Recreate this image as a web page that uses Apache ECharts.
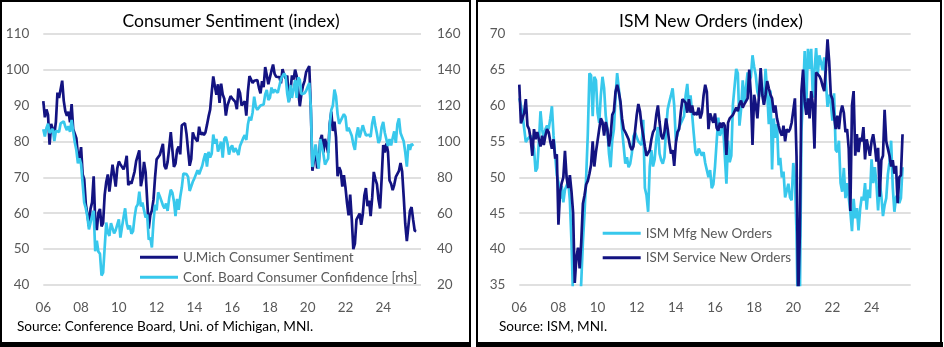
<!DOCTYPE html>
<html><head><meta charset="utf-8">
<script src="https://cdn.jsdelivr.net/npm/echarts@6/dist/echarts.min.js"></script>
<style>html,body{margin:0;padding:0;background:#fff}#c{width:944px;height:347px}</style>
</head><body><div id="c"></div>
<script>
const startYear = 2006;
const xTickLabels = ['06','08','10','12','14','16','18','20','22','24'];

const umich = [
91.2,86.7,88.9,87.4,79.1,84.9,84.7,82.0,85.4,93.6,92.1,91.7,
96.9,91.3,88.4,87.1,88.3,85.3,90.4,83.4,83.4,80.9,76.1,75.5,
78.4,70.8,69.5,62.6,59.8,56.4,61.2,63.0,70.3,57.6,55.3,60.1,
61.2,56.3,57.3,65.1,68.7,70.8,66.0,65.7,73.5,70.6,67.4,72.5,
74.4,73.6,73.6,72.2,73.6,76.0,67.8,68.9,68.2,67.7,71.6,74.5,
74.2,77.5,67.5,69.8,74.3,71.5,63.7,55.7,59.5,60.8,63.7,69.9,
75.0,75.3,76.2,76.4,79.3,73.2,72.3,74.3,78.3,82.6,82.7,72.9,
73.8,77.6,78.6,76.4,84.5,84.1,85.1,82.1,77.5,73.2,75.1,82.5,
81.2,81.6,80.0,84.1,81.9,82.5,81.8,82.5,84.6,86.9,88.8,93.6,
98.1,95.4,93.0,95.9,90.7,96.1,93.1,91.9,87.2,90.0,91.3,92.6,
92.0,91.7,91.0,89.0,94.7,93.5,90.0,89.8,91.2,87.2,93.8,98.2,
98.5,96.3,96.9,97.0,97.1,95.0,93.4,96.8,95.1,100.7,98.5,95.9,
95.7,99.7,101.4,98.8,98.0,98.2,97.9,96.2,100.1,98.6,97.5,98.3,
91.2,93.8,98.4,97.2,100.0,98.2,98.4,89.8,93.2,95.5,96.8,99.3,
99.8,101.0,89.1,71.8,72.3,78.1,72.5,74.1,80.4,81.8,76.9,80.7,
79.0,76.8,84.9,88.3,82.9,85.5,81.2,70.3,72.8,71.7,67.4,70.6,
67.2,62.8,59.4,65.2,58.4,50.0,51.5,58.2,58.6,59.9,56.8,59.7,
64.9,67.0,62.0,63.5,59.2,64.4,71.5,69.5,68.1,63.8,61.3,69.7,
79.0,76.9,79.4,77.2,69.1,68.2,66.4,67.9,70.1,70.5,71.8,74.0,
71.7,64.7,57.0,52.2,52.2,60.7,61.7,58.2,55.1,55.0
];

const confBoard = [
106.8,102.7,107.5,109.8,104.7,105.4,107.0,100.2,105.9,105.1,105.3,110.0,
110.2,111.2,108.2,106.3,108.5,105.3,111.9,105.6,99.5,95.2,87.8,90.6,
87.3,76.4,65.9,62.8,58.1,51.0,51.9,58.5,61.4,38.8,44.7,38.6,
37.4,25.3,26.9,40.8,54.8,49.3,47.4,54.5,53.4,48.7,50.6,53.6,
56.5,46.4,52.3,57.7,62.7,54.3,51.0,53.2,48.6,49.9,57.8,63.4,
64.8,72.0,63.8,66.0,61.7,57.6,59.2,45.2,46.4,40.9,55.2,64.8,
61.5,71.6,69.5,68.7,64.4,62.7,65.4,61.3,68.4,73.1,71.5,66.7,
58.4,68.0,61.9,69.0,74.3,82.1,81.0,81.8,80.2,72.4,72.0,77.5,
79.4,78.3,83.9,81.7,82.2,86.4,90.3,93.4,86.0,94.1,91.0,93.1,
103.8,98.8,101.4,94.3,94.6,99.8,91.0,101.3,102.6,99.1,92.6,96.3,
97.8,94.0,96.2,94.7,92.4,97.4,96.7,101.8,103.5,100.8,109.4,113.7,
111.6,116.1,124.9,119.4,117.6,117.3,120.0,120.4,120.6,126.2,128.6,123.1,
124.3,130.0,127.0,128.8,128.8,127.1,127.9,134.7,135.3,137.9,136.4,126.6,
121.7,131.4,124.2,129.2,134.1,124.3,135.7,134.2,126.3,126.1,126.8,128.2,
130.4,132.6,118.8,85.7,85.9,98.3,91.7,84.8,101.3,101.4,92.9,87.1,
88.9,90.4,109.0,117.5,120.0,128.9,125.1,115.2,109.8,111.6,111.9,115.2,
113.8,105.7,107.6,108.6,103.2,98.4,95.3,103.6,107.8,102.2,101.4,109.0,
106.0,103.4,104.0,103.7,102.5,110.1,114.0,108.7,104.3,99.1,101.0,108.0,
110.9,104.8,104.7,97.5,101.3,97.8,101.9,105.6,99.2,109.6,112.8,104.7,
105.3,100.1,93.9,86.0,98.4,95.2,98.7,97.4
];

const ismMfg = [
61.0,60.0,58.7,56.8,54.9,55.3,55.3,55.8,54.9,54.0,50.8,51.3,
54.9,59.2,56.7,55.3,56.7,57.2,56.7,58.2,59.9,55.8,53.0,50.3,
49.3,47.0,48.8,46.5,48.3,48.8,49.5,46.8,41.0,33.0,28.0,23.0,
30.0,31.0,35.5,41.0,45.0,50.0,56.0,64.5,64.2,58.5,64.0,63.5,
59.0,57.6,61.4,64.0,62.4,58.6,56.7,53.3,51.4,55.2,56.7,61.2,
64.5,62.4,60.0,56.7,54.3,51.9,52.8,51.4,51.9,53.3,55.7,56.2,
56.0,55.0,55.0,54.5,58.0,48.5,47.5,45.2,51.5,53.8,51.5,52.5,
55.2,57.0,53.3,52.4,51.9,52.8,56.7,59.5,60.5,61.4,62.4,60.0,
55.0,56.0,57.0,57.5,58.0,58.5,61.4,63.0,60.0,61.4,61.4,56.0,
53.5,53.0,54.0,53.5,53.0,53.5,52.0,51.0,50.0,51.0,48.5,49.0,
51.5,51.5,58.3,55.8,55.7,57.0,56.9,49.1,55.1,52.1,53.0,60.2,
60.4,65.1,64.5,57.2,59.5,63.5,60.4,60.3,64.6,63.4,64.0,67.0,
65.4,64.2,61.9,61.2,63.7,63.5,60.2,65.1,61.8,57.4,62.1,51.1,
58.2,55.5,57.4,51.7,52.7,50.0,50.8,47.2,47.3,49.1,47.2,46.8,
52.0,49.8,42.2,27.1,31.8,56.4,61.5,67.6,60.2,67.9,65.1,67.9,
61.1,64.8,68.0,64.3,67.0,66.0,64.9,66.7,66.7,59.8,61.5,60.4,
57.9,61.7,53.8,53.5,55.1,49.2,48.0,51.3,47.1,49.2,47.2,45.2,
42.5,47.0,44.3,45.7,42.6,45.6,47.3,46.8,49.2,45.5,48.3,47.1,
52.5,49.2,51.4,49.1,45.4,49.3,47.4,44.6,46.1,47.1,50.4,52.1,
55.1,48.6,45.2,47.2,47.6,46.4,47.1,51.4
];

const ismServices = [
62.9,57.5,58.2,59.0,60.9,57.2,56.7,55.3,53.0,56.7,55.3,56.3,
55.3,54.3,55.8,54.5,55.8,56.7,56.3,55.0,54.0,55.3,52.6,53.2,
43.4,48.0,49.2,50.0,53.7,50.0,48.5,50.3,48.0,45.0,35.3,38.8,
40.2,37.3,41.0,46.3,47.5,49.0,49.5,50.5,51.7,55.0,51.5,53.5,
53.3,56.7,58.2,57.7,55.8,57.7,56.7,54.3,55.8,58.7,59.2,61.9,
62.9,61.9,60.6,58.2,56.7,56.3,55.8,55.3,54.3,53.8,54.3,56.5,
58.7,60.2,59.2,57.2,55.8,54.3,53.0,52.8,53.8,55.3,56.3,56.7,
58.7,60.0,57.7,55.8,55.3,56.3,58.2,56.7,54.8,53.3,53.8,51.6,
54.8,56.3,56.7,59.0,60.9,60.9,60.4,59.0,60.9,59.0,60.0,58.7,
59.0,58.7,59.7,58.2,59.0,61.4,62.9,61.9,56.7,58.9,58.2,57.6,
58.9,56.9,56.5,57.6,56.9,57.6,57.2,53.1,57.6,58.2,58.2,58.7,
59.2,59.7,59.2,60.2,60.7,59.7,60.2,60.2,61.0,65.0,61.5,54.5,
61.5,60.1,58.2,61.5,65.2,61.5,60.1,61.5,63.4,62.4,61.5,61.0,
59.0,60.0,58.2,57.2,56.3,55.8,57.2,55.0,56.7,56.3,56.7,57.6,
57.6,61.0,52.9,32.9,41.9,62.0,65.0,60.5,58.7,61.0,58.2,62.0,
60.1,54.0,64.6,64.6,64.1,63.6,62.7,62.0,65.2,69.2,66.2,61.5,
60.9,58.6,56.7,58.6,56.7,59.0,60.0,59.0,56.3,56.7,54.0,45.3,
60.0,62.0,53.0,56.0,53.5,55.5,55.0,57.0,52.5,55.3,55.3,53.0,
55.0,56.0,54.4,52.2,54.1,47.3,52.4,53.0,59.4,55.0,54.0,53.0,
51.5,52.4,50.5,51.6,46.4,50.0,50.3,56.0
];

const DARK = '#131381';
const CYAN = '#38c8ec';
const FONT = 'Lato';
const GREY = '#595959';

function toPairs(arr) { return arr.map((v, i) => [startYear + i / 12, v]); }
function xFmt(v) {
  const k = (v - startYear) / 2;
  return (k >= 0 && k < xTickLabels.length && Number.isInteger(k)) ? xTickLabels[k] : '';
}

const chart = echarts.init(document.getElementById('c'), null, {renderer: 'canvas'});
const xCommon = {
  type: 'value', min: 2006, max: 2026, interval: 2,
  axisLine: {show: false}, axisTick: {show: false}, splitLine: {show: false},
  axisLabel: {formatter: xFmt, color: GREY, fontSize: 13.5, fontFamily: FONT, margin: 16}
};
const split = {show: true, lineStyle: {color: '#d6d6d6', width: 1.5}};
const yLabel = {color: GREY, fontSize: 13.5, fontFamily: FONT};

function line(name, data, xi, yi, color, z) {
  return {
    name, type: 'line', xAxisIndex: xi, yAxisIndex: yi, data: toPairs(data),
    symbol: 'none', showSymbol: false, clip: true, z: z,
    lineStyle: {width: 2.7, color: color}, itemStyle: {color: color}
  };
}

chart.setOption({
  animation: false,
  grid: [
    {left: 43.3, top: 33.7, width: 377.7, height: 251.3},
    {left: 519.3, top: 33.7, width: 391.4, height: 251.3}
  ],
  xAxis: [Object.assign({gridIndex: 0}, xCommon), Object.assign({gridIndex: 1}, xCommon)],
  yAxis: [
    {gridIndex: 0, type: 'value', min: 40, max: 110, interval: 10, position: 'left',
     axisLine: {show: false}, axisTick: {show: false}, splitLine: split,
     axisLabel: Object.assign({margin: 14}, yLabel)},
    {gridIndex: 0, type: 'value', min: 20, max: 160, interval: 20, position: 'right',
     axisLine: {show: false}, axisTick: {show: false}, splitLine: {show: false},
     axisLabel: Object.assign({margin: 16}, yLabel)},
    {gridIndex: 1, type: 'value', min: 35, max: 70, interval: 5, position: 'left',
     axisLine: {show: false}, axisTick: {show: false}, splitLine: split,
     axisLabel: Object.assign({margin: 14}, yLabel)}
  ],
  legend: [
    {data: ['U.Mich Consumer Sentiment', 'Conf. Board Consumer Confidence [rhs]'],
     orient: 'vertical', left: 140, top: 249.3, padding: 0, itemGap: 4,
     itemWidth: 38, itemHeight: 3, icon: 'rect',
     textStyle: {color: GREY, fontSize: 13.5, fontFamily: FONT, lineHeight: 16}},
    {data: ['ISM Mfg New Orders', 'ISM Service New Orders'],
     orient: 'vertical', left: 602.7, top: 225.3, padding: 0, itemGap: 8.4,
     itemWidth: 38, itemHeight: 3, icon: 'rect',
     textStyle: {color: GREY, fontSize: 13.5, fontFamily: FONT, lineHeight: 16}}
  ],
  series: [
    line('U.Mich Consumer Sentiment', umich, 0, 0, DARK, 2),
    line('Conf. Board Consumer Confidence [rhs]', confBoard, 0, 1, CYAN, 3),
    line('ISM Mfg New Orders', ismMfg, 1, 2, CYAN, 2),
    line('ISM Service New Orders', ismServices, 1, 2, DARK, 3)
  ],
  graphic: [
    {type: 'rect', shape: {x: 1, y: 1, width: 469, height: 343}, style: {fill: 'none', stroke: '#000', lineWidth: 2}},
    {type: 'rect', shape: {x: 477, y: 1, width: 464, height: 343}, style: {fill: 'none', stroke: '#000', lineWidth: 2}},
    {type: 'rect', shape: {x: 0, y: 342, width: 471, height: 5}, style: {fill: '#000'}},
    {type: 'rect', shape: {x: 476, y: 342, width: 467, height: 5}, style: {fill: '#000'}},
    {type: 'text', x: 231, y: 21.7, style: {text: 'Consumer Sentiment (index)', font: '17.5px ' + FONT, fill: '#000', align: 'center', verticalAlign: 'middle'}},
    {type: 'text', x: 711, y: 21.7, style: {text: 'ISM New Orders (index)', font: '17.5px ' + FONT, fill: '#000', align: 'center', verticalAlign: 'middle'}},
    {type: 'text', x: 17, y: 327, style: {text: 'Source: Conference Board, Uni. of Michigan, MNI.', font: '13.6px ' + FONT, fill: '#000', align: 'left', verticalAlign: 'middle'}},
    {type: 'text', x: 499, y: 327, style: {text: 'Source: ISM, MNI.', font: '13.6px ' + FONT, fill: '#000', align: 'left', verticalAlign: 'middle'}}
  ]
});
</script>
</body></html>
